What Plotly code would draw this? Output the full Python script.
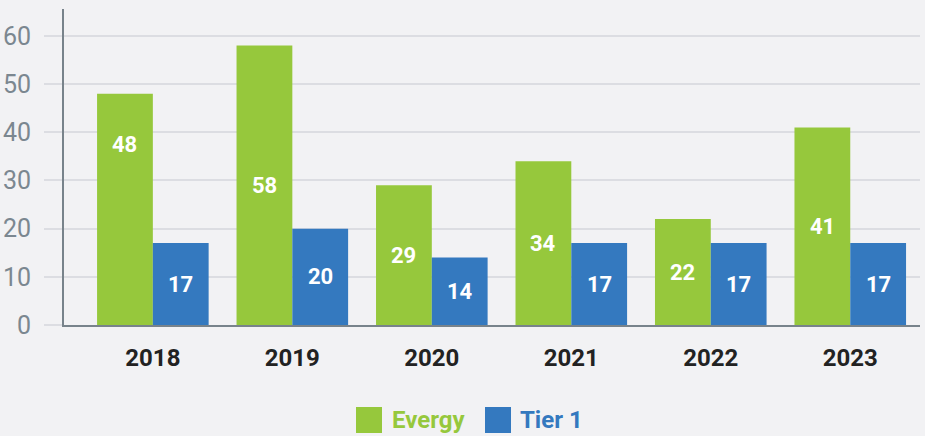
import plotly.graph_objects as go

years = ["2018", "2019", "2020", "2021", "2022", "2023"]
evergy = [48, 58, 29, 34, 22, 41]
tier1 = [17, 20, 14, 17, 17, 17]
y_ticks = [0, 10, 20, 30, 40, 50, 60]

GREEN = "#96c83c"
BLUE = "#3479bf"
BG = "#f2f2f4"
GRID = "#dcdde2"
AXIS = "#78838b"
TICK_TXT = "#7b8790"
FONT = "Roboto"

W, H = 925, 436
ML, MR, MT, MB = 64, 5, 9, 111
plot_w = W - ML - MR
plot_h = H - MT - MB

fig = go.Figure()
series = [("Evergy", evergy, GREEN), ("Tier 1", tier1, BLUE)]
for name, vals, col in series:
    fig.add_trace(go.Bar(x=years, y=vals, name=name, marker=dict(color=col, line=dict(width=0)),
                         textposition="none", hoverinfo="x+y"))

# value labels, centred in each bar (the 2018 Evergy label sits higher)
label_frac = {("Evergy", "2018"): 0.78}
offsets = {"Evergy": -0.2, "Tier 1": 0.2}
annotations = []
for name, vals, col in series:
    for i, (yr, v) in enumerate(zip(years, vals)):
        f = label_frac.get((name, yr), 0.5)
        annotations.append(dict(x=i + offsets[name], y=v * f, xref="x", yref="y", text=f"<b>{v}</b>",
                                showarrow=False, font=dict(family=FONT, size=22, color="white")))

# legend drawn as squares plus coloured labels below the axis
def px_x(p):
    return (p - ML) / plot_w

def px_y(p):
    return (H - MB - p) / plot_h

shapes = []
legend_items = [("Evergy", GREEN, 356, 390), ("Tier 1", BLUE, 485, 518)]
for name, col, sq_left, txt_left in legend_items:
    shapes.append(dict(type="rect", xref="paper", yref="paper", x0=px_x(sq_left), x1=px_x(sq_left + 26),
                       y0=px_y(433), y1=px_y(407), fillcolor=col, line=dict(width=0), layer="above"))
    annotations.append(dict(x=px_x(txt_left), y=px_y(420), xref="paper", yref="paper", xanchor="left",
                            yanchor="middle", text=f"<b>{name}</b>", showarrow=False,
                            font=dict(family=FONT, size=24, color=col)))

fig.update_layout(
    width=W, height=H,
    margin=dict(l=ML, r=MR, t=MT, b=MB, autoexpand=False),
    paper_bgcolor=BG, plot_bgcolor=BG,
    barmode="group", bargap=0.2, bargroupgap=0,
    showlegend=False,
    font=dict(family=FONT),
    annotations=annotations,
    shapes=shapes,
    xaxis=dict(range=[-0.637, 5.5], showgrid=False, showline=True, linecolor=AXIS, linewidth=2,
               ticks="", tickfont=dict(family=FONT, size=24, color="#222222"), automargin=False,
               tickprefix="<b>", ticksuffix="</b>", zeroline=False, ticklabelstandoff=10),
    yaxis=dict(range=[0, 65.6], tickvals=y_ticks, showgrid=True, gridcolor=GRID, gridwidth=2,
               showline=True, linecolor=AXIS, linewidth=2, ticks="outside", ticklen=18, automargin=False,
               tickcolor=GRID, tickwidth=2, tickfont=dict(family=FONT, size=25, color=TICK_TXT),
               zeroline=False, ticklabelstandoff=8),
)

fig.write_html("out.html")
